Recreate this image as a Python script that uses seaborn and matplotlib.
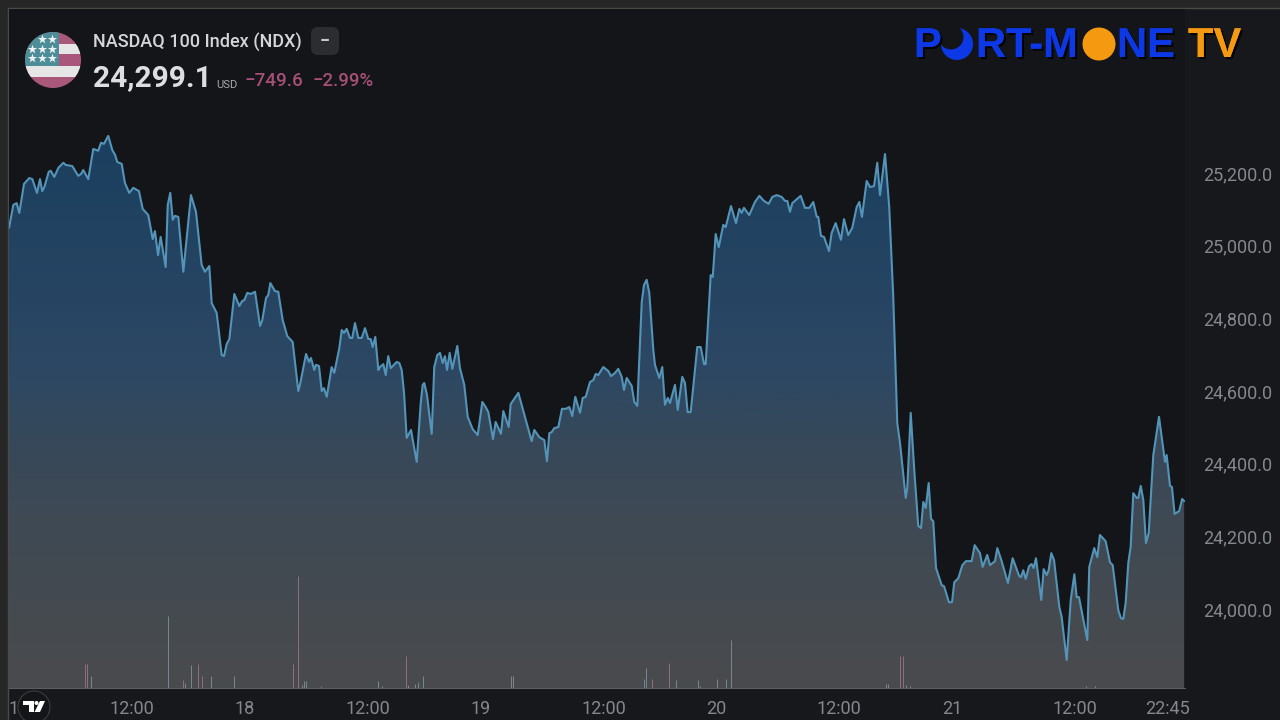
import matplotlib
matplotlib.use("Agg")
import matplotlib.pyplot as plt
import matplotlib.patheffects as pe
from matplotlib.colors import LinearSegmentedColormap
from matplotlib.patches import Circle, FancyBboxPatch, Polygon, Rectangle
import numpy as np
import pandas as pd
import seaborn as sns

# hours since the 17th 00:00
hours = [0, 0.44, 0.78, 1.05, 1.53, 2.07, 2.38, 2.85, 3.16, 3.39, 3.60, 4.05, 4.25, 4.62, 5.03, 5.54, 5.78, 6.45, 7.06, 7.34,
         7.57, 8.08, 8.59, 9.10, 9.38, 9.68, 10.12, 10.53, 10.81, 11.04, 11.49, 11.82, 12.26, 12.67, 13.25, 13.63, 14.20, 14.65, 14.88, 15.19,
         15.46, 15.97, 16.18, 16.44, 16.69, 16.92, 17.26, 17.77, 18.55, 19.06, 19.64, 19.98, 20.42, 20.66, 21.17, 21.68, 21.92, 22.19, 22.46, 22.97,
         23.48, 23.78, 23.99, 24.29, 24.64, 25.08, 25.59, 25.82, 26.20, 26.43, 26.64, 27.11, 27.45, 27.90, 28.37, 28.92, 29.49, 29.66, 30.28, 30.58,
         30.78, 31.12, 31.29, 31.60, 31.88, 32.11, 32.39, 32.89, 33.16, 33.67, 33.92, 34.15, 34.42, 34.76, 34.99, 35.27, 35.61, 35.95, 36.29, 36.63,
         36.87, 37.07, 37.34, 37.65, 37.82, 38.16, 38.40, 38.66, 38.91, 39.52, 39.79, 40.03, 40.27, 40.54, 40.98, 41.56, 41.97, 42.17, 42.33, 42.61,
         43.09, 43.35, 43.66, 43.93, 44.21, 44.44, 44.65, 44.92, 45.19, 45.70, 45.97, 46.41, 46.76, 47.27, 47.78, 48.25, 48.59, 48.86, 49.34, 49.61,
         50.15, 50.39, 50.94, 51.14, 51.92, 53.28, 53.55, 54.06, 54.57, 54.84, 55.08, 55.32, 55.59, 56.00, 56.37, 56.75, 57.12, 57.42, 57.73, 58.21,
         58.48, 58.79, 59.23, 59.56, 59.81, 60.07, 60.58, 61.09, 61.37, 61.78, 62.11, 62.46, 62.69, 62.97, 63.48, 63.74, 64.05, 64.50, 64.73, 65.00,
         65.27, 65.68, 65.85, 66.29, 66.59, 66.87, 67.15, 67.38, 67.89, 68.17, 68.63, 68.91, 69.18, 69.49, 70.16, 70.51, 70.85, 71.02, 71.53, 71.74,
         72.04, 72.35, 72.81, 73.06, 73.60, 74.11, 74.45, 74.69, 74.92, 75.46, 76.04, 76.49, 76.96, 77.44, 77.81, 78.25, 78.77, 79.10, 79.34, 79.61,
         79.85, 80.70, 81.14, 81.58, 81.99, 82.34, 82.50, 82.77, 83.08, 83.59, 83.86, 84.27, 84.81, 85.12, 85.55, 85.96, 86.41, 86.68, 86.95, 87.43,
         87.77, 88.18, 88.51, 88.79, 89.30, 89.73, 90.14, 90.55, 90.83, 91.41, 91.57, 91.92, 92.28, 92.69, 92.97, 93.20, 93.45, 93.75, 93.99, 94.22,
         94.50, 95.08, 95.32, 95.82, 96.13, 96.36, 96.77, 97.18, 97.55, 98.13, 98.44, 98.98, 99.25, 99.72, 100.0, 100.51, 100.75, 101.19, 101.83, 102.31,
         102.98, 103.16, 103.39, 103.64, 103.98, 104.25, 104.45, 104.69, 105.23, 105.47, 105.78, 105.98, 106.25, 106.53, 107.07, 107.31, 107.82, 108.23, 108.60, 108.84,
         109.07, 109.92, 110.12, 110.63, 110.94, 111.21, 111.79, 112.23, 112.51, 113.08, 113.35, 113.59, 113.83, 114.10, 114.34, 114.61, 114.95, 115.12, 115.37, 115.63,
         115.90, 116.18, 116.65, 117.23, 117.84, 118.01, 118.35, 118.55, 118.82, 119.29, 119.59, 119.80]

prices = [25049, 25112, 25117, 25090, 25170, 25186, 25183, 25145, 25183, 25150, 25161, 25203, 25206, 25189, 25214, 25228, 25222, 25219, 25192, 25197,
          25208, 25183, 25266, 25261, 25283, 25280, 25302, 25263, 25250, 25230, 25225, 25172, 25145, 25159, 25150, 25101, 25084, 25018, 25040, 24974,
          25024, 24941, 25112, 25145, 25071, 25082, 25079, 24928, 25139, 25093, 24947, 24928, 24944, 24842, 24815, 24699, 24696, 24729, 24743, 24867,
          24834, 24848, 24850, 24870, 24867, 24873, 24779, 24795, 24856, 24864, 24897, 24875, 24873, 24795, 24751, 24735, 24600, 24617, 24702, 24680,
          24691, 24658, 24672, 24669, 24600, 24608, 24584, 24666, 24650, 24718, 24768, 24760, 24771, 24746, 24746, 24787, 24746, 24746, 24773, 24743,
          24743, 24721, 24749, 24658, 24666, 24674, 24644, 24696, 24663, 24680, 24677, 24658, 24595, 24471, 24493, 24405, 24567, 24617, 24622, 24589,
          24482, 24666, 24699, 24705, 24677, 24696, 24658, 24705, 24661, 24724, 24663, 24617, 24529, 24495, 24479, 24570, 24556, 24542, 24468, 24515,
          24482, 24545, 24501, 24564, 24595, 24462, 24493, 24473, 24465, 24407, 24484, 24487, 24498, 24501, 24551, 24551, 24556, 24531, 24584, 24540,
          24581, 24584, 24625, 24630, 24647, 24644, 24666, 24655, 24641, 24650, 24661, 24639, 24603, 24636, 24614, 24570, 24559, 24845, 24892, 24906,
          24870, 24713, 24672, 24636, 24666, 24562, 24581, 24567, 24617, 24548, 24639, 24622, 24542, 24542, 24721, 24721, 24674, 24674, 24919, 24914,
          25032, 24996, 25057, 25051, 25109, 25062, 25101, 25090, 25104, 25084, 25120, 25137, 25123, 25115, 25134, 25139, 25134, 25123, 25123, 25093,
          25117, 25137, 25104, 25104, 25120, 25079, 25079, 25027, 25024, 24985, 25035, 25062, 25016, 25073, 25029, 25049, 25106, 25120, 25079, 25178,
          25161, 25164, 25228, 25139, 25252, 25106, 24859, 24512, 24457, 24306, 24333, 24540, 24383, 24229, 24223, 24295, 24278, 24347, 24248, 24242,
          24113, 24066, 24063, 24019, 24019, 24074, 24085, 24121, 24132, 24132, 24176, 24154, 24116, 24149, 24121, 24132, 24168, 24132, 24072, 24140,
          24091, 24088, 24107, 24083, 24118, 24124, 24113, 24140, 24025, 24110, 24094, 24107, 24154, 24135, 24006, 23978, 23860, 24025, 24096, 24033,
          24033, 23915, 24116, 24168, 24143, 24204, 24187, 24129, 24121, 23997, 23975, 23973, 24017, 24127, 24171, 24319, 24306, 24306, 24339, 24300,
          24182, 24209, 24424, 24529, 24405, 24424, 24339, 24336, 24262, 24270, 24303, 24297]

vol_up_hours = [8.39, 16.24, 17.97, 18.58, 20.59, 22.97, 29.84, 30.07, 30.28, 37.65, 37.99, 40.70, 41.39, 41.72, 42.2, 51.17, 51.38,
                64.73, 64.98, 67.99, 70.23, 70.44, 72.15, 73.14, 73.65, 89.40, 89.60, 91.44, 91.80, 109.8, 110.7]
vol_up = [12, 72, 5, 23, 12, 12, 3, 7, 7, 7, 2, 3, 4, 6, 12, 12, 12,
          9, 20, 8, 8, 2, 9, 9, 48, 4, 4, 3, 2, 2, 2]
vol_down_hours = [7.75, 7.92, 17.77, 19.30, 19.64, 28.98, 29.49, 31.77, 40.50, 65.59, 67.28, 90.83, 91.13]
vol_down = [24, 24, 8, 24, 12, 24, 112, 2, 32, 9, 25, 32, 32]

y_ticks = [24000, 24200, 24400, 24600, 24800, 25000, 25200]
x_ticks = [1.0, 12.5, 24, 36.55, 48.1, 60.6, 72.1, 84.6, 96.15, 108.7, 118.1]
x_labels = ["17", "12:00", "18", "12:00", "19", "12:00", "20", "12:00", "21", "12:00", "22:45"]

W, H = 1280, 720
sns.set_theme(style="dark")
plt.rcParams["font.family"] = ["Roboto", "DejaVu Sans"]
PINK = "#a64f78"
AXIS_TXT = "#84878d"

fig = plt.figure(figsize=(12.8, 7.2), dpi=100, facecolor="#262626")


def pane(left, top, right, bottom, z):
    return fig.add_axes([left / W, 1 - bottom / H, (right - left) / W, (bottom - top) / H], zorder=z)


# pixel sized layer for the background
back = pane(0, 0, W, H, 0)
back.set_xlim(0, W)
back.set_ylim(H, 0)
back.axis("off")
back.add_patch(Rectangle((8, 8), W, H, fc="#16181c", ec="#4a4a4a", lw=1))

ax = pane(9, 9, 1185, 688, 1)
ax.set_facecolor("#131518")
y_lo, y_hi = 23783, 25651
df = pd.DataFrame({"hours": hours, "price": prices})

# area with a vertical gradient
area = ax.fill_between(df["hours"], df["price"], y_lo, color="none", lw=0)
cmap = LinearSegmentedColormap.from_list("area", [(0, "#4a4b4e"), (0.16, "#444a50"), (0.34, "#3d4955"), (0.47, "#35485b"),
                                                  (0.56, "#2e4863"), (0.70, "#274563"), (1, "#1b3f5f")])
grad = ax.imshow(np.linspace(1, 0, 256).reshape(-1, 1), extent=[0, 120, y_lo, 25300], aspect="auto", cmap=cmap, zorder=1)
grad.set_clip_path(area.get_paths()[0], transform=ax.transData)
sns.lineplot(data=df, x="hours", y="price", ax=ax, color="#5394b8", lw=1.5, zorder=3, sort=False, errorbar=None)

ax.set_xlim(0, 119.88)
ax.set_ylim(y_lo, y_hi)
ax.set_xlabel("")
ax.set_ylabel("")
ax.set_xticks(x_ticks)
ax.set_xticklabels(x_labels)
ax.set_yticks(y_ticks)
ax.set_yticklabels([f"{v:,.1f}" for v in y_ticks])
ax.tick_params(axis="x", length=0, pad=9, labelsize=13, labelcolor=AXIS_TXT)
ax.grid(False)
for side in ["top", "left", "right"]:
    ax.spines[side].set_visible(False)
ax.spines["bottom"].set_color("#5c5d60")
ax.spines["bottom"].set_linewidth(0.8)

# volume bars share the time axis
vol = ax.twinx()
vol.set_ylim(0, 679)
vol.axis("off")
vol.vlines(vol_up_hours, 0, vol_up, color="#77898f", lw=0.7)
vol.vlines(vol_down_hours, 0, vol_down, color="#8f6f7c", lw=0.7)

# twinx moves the price ticks back to the left
ax.yaxis.tick_right()
ax.tick_params(axis="y", length=0, pad=13, labelsize=13, labelcolor=AXIS_TXT)

# header, logos: pixel sized layer on top
top = pane(0, 0, W, H, 5)
top.set_xlim(0, W)
top.set_ylim(H, 0)
top.axis("off")
top.patch.set_alpha(0)

# flag
disc = Circle((53, 60), 28, transform=top.transData)
stripes = [(32, 12, "#a9587c"), (44, 10, "#e6e6e6"), (54, 12, "#a9587c"), (66, 11, "#e6e6e6"), (77, 11, "#a9587c")]
for y0, h0, c in stripes:
    r = top.add_patch(Rectangle((25, y0), 56, h0, fc=c, lw=0))
    r.set_clip_path(disc)
canton = top.add_patch(Rectangle((25, 32), 34, 34, fc="#4c8d98", lw=0))
canton.set_clip_path(disc)
top.scatter([42, 52, 32, 42, 52, 32, 42, 52], [39, 39, 49, 49, 49, 58, 58, 58], marker="*", s=48, c="#eef2f2", lw=0, zorder=4)

top.text(93, 42, "NASDAQ 100 Index (NDX)", color="#d3d5da", fontsize=13, fontweight="medium", va="center")
top.add_patch(FancyBboxPatch((315, 31), 20, 20, boxstyle="round,pad=4,rounding_size=7", fc="#2b2d31", lw=0))
top.text(325, 41, "−", color="#c6c8cc", fontsize=13, fontweight="bold", va="center", ha="center")
top.text(93, 78, "24,299.1", color="#dcdee2", fontsize=21.5, fontweight="bold", va="center")
top.text(216, 84.5, "USD", color="#a9abb0", fontsize=8, va="center")
top.text(245, 81, "−749.6", color=PINK, fontsize=13.6, fontweight="medium", va="center")
top.text(313, 81, "−2.99%", color=PINK, fontsize=13.4, fontweight="medium", va="center")

# channel logo
BLUE, ORANGE = "#0c38e6", "#f59a10"
shadow = [pe.withSimplePatchShadow(offset=(1.5, -1.5), shadow_rgbFace="black", alpha=0.9), pe.Normal()]
logo = dict(fontsize=30, fontweight="bold", family="Liberation Sans", va="center")
top.text(914, 46, "P", color=BLUE, path_effects=shadow, **logo)
top.add_patch(Circle((957, 44), 16, fc=BLUE, lw=0))
top.add_patch(Circle((951, 37), 12.5, fc="#131518", lw=0))
top.text(976, 46, "RT-M", color=BLUE, path_effects=shadow, **logo)
top.add_patch(Circle((1099, 44), 16.5, fc=ORANGE, lw=0))
top.text(1117, 46, "NE", color=BLUE, path_effects=shadow, **logo)
top.text(1188, 46, "TV", color=ORANGE, path_effects=shadow, **logo)

# tradingview badge
top.add_patch(Circle((34, 707), 16, fc="#131518", ec="#3a3c40", lw=0.8))
top.add_patch(Polygon([(23, 701), (34, 701), (34, 712), (28.5, 712), (28.5, 705), (23, 705)], fc="white", lw=0))
top.add_patch(Circle((36.5, 703), 2, fc="white", lw=0))
top.add_patch(Polygon([(40, 701), (45, 701), (40, 712), (34.5, 712)], fc="white", lw=0))

fig.savefig("out.png", dpi=100, facecolor=fig.get_facecolor())
